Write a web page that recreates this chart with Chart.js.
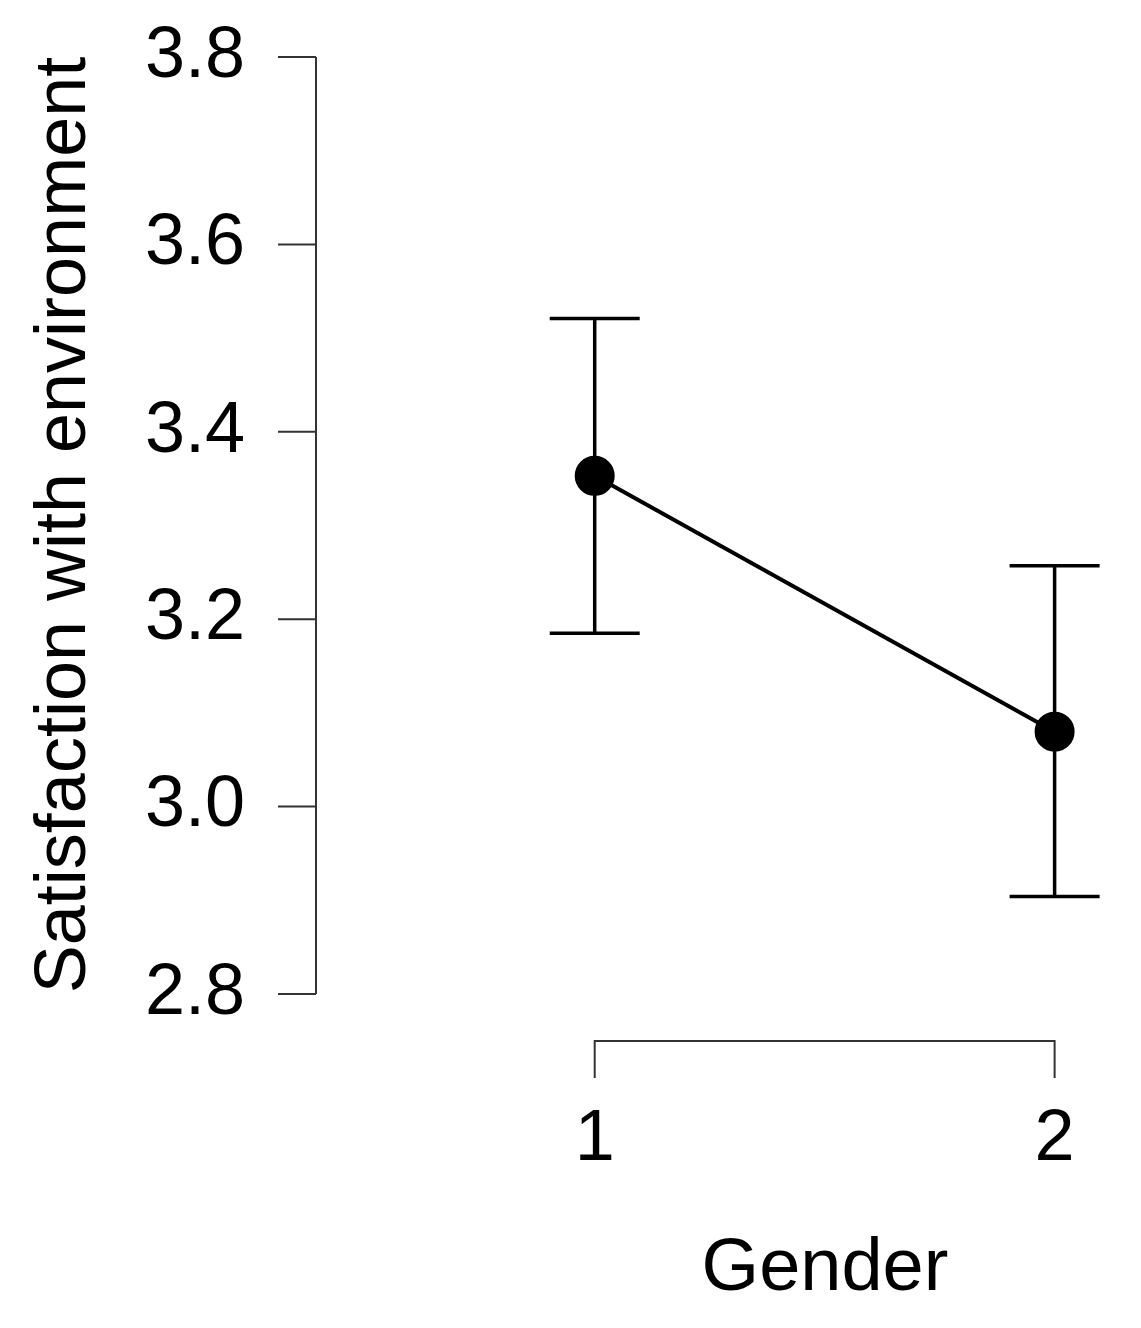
<!DOCTYPE html>
<html>
<head>
<meta charset="utf-8">
<script src="https://cdn.jsdelivr.net/npm/chart.js@4"></script>
<style>
  html, body { margin: 0; padding: 0; background: #fff; }
  #wrap { width: 1141px; height: 1328px; position: relative; }
</style>
</head>
<body>
<div id="wrap"><canvas id="c"></canvas></div>
<script>
const categories = [1, 2];
const means = [3.353, 3.080];
const upper = [3.521, 3.257];
const lower = [3.185, 2.904];
const yTicks = [2.8, 3.0, 3.2, 3.4, 3.6, 3.8];
const yTitle = 'Satisfaction with environment';
const xTitle = 'Gender';

const FONT = '"Liberation Sans", Arial, sans-serif';

// R-style axes, error bars and labels drawn on the library's scales
const rAxes = {
    id: 'rAxes',
    beforeDatasetsDraw(chart) {
        const { ctx, scales: { x, y } } = chart;
        ctx.save();
        ctx.strokeStyle = '#000';
        ctx.lineWidth = 3.5;
        ctx.lineCap = 'butt';
        categories.forEach((c, i) => {
            const px = x.getPixelForValue(c);
            const top = y.getPixelForValue(upper[i]);
            const bot = y.getPixelForValue(lower[i]);
            ctx.beginPath();
            ctx.moveTo(px, top); ctx.lineTo(px, bot);
            ctx.moveTo(px - 45, top); ctx.lineTo(px + 45, top);
            ctx.moveTo(px - 45, bot); ctx.lineTo(px + 45, bot);
            ctx.stroke();
        });
        ctx.restore();
    },
    afterDraw(chart) {
        const { ctx, scales: { x, y } } = chart;
        ctx.save();
        ctx.strokeStyle = '#333';
        ctx.lineWidth = 2;
        ctx.fillStyle = '#000';
        // y axis
        const ax = 316;
        const yTop = y.getPixelForValue(yTicks[yTicks.length - 1]);
        const yBot = y.getPixelForValue(yTicks[0]);
        ctx.beginPath();
        ctx.moveTo(ax, yTop); ctx.lineTo(ax, yBot);
        yTicks.forEach(t => {
            const py = y.getPixelForValue(t);
            ctx.moveTo(ax, py); ctx.lineTo(ax - 38, py);
        });
        ctx.stroke();
        ctx.font = '72px ' + FONT;
        ctx.textAlign = 'right';
        ctx.textBaseline = 'middle';
        yTicks.forEach(t => ctx.fillText(t.toFixed(1), 245, y.getPixelForValue(t)));
        // x axis bracket
        const bx0 = x.getPixelForValue(categories[0]);
        const bx1 = x.getPixelForValue(categories[categories.length - 1]);
        ctx.beginPath();
        ctx.moveTo(bx0, 1078); ctx.lineTo(bx0, 1041);
        ctx.lineTo(bx1, 1041); ctx.lineTo(bx1, 1078);
        ctx.stroke();
        ctx.textAlign = 'center';
        categories.forEach(c => ctx.fillText(String(c), x.getPixelForValue(c), 1140));
        // titles
        ctx.font = '74px ' + FONT;
        ctx.fillText(xTitle, 825, 1270);
        ctx.font = '72px ' + FONT;
        ctx.translate(65, 525);
        ctx.rotate(-Math.PI / 2);
        ctx.fillText(yTitle, 0, 0);
        ctx.restore();
    }
};

new Chart(document.getElementById('c'), {
    type: 'line',
    data: {
        datasets: [{
            data: categories.map((c, i) => ({ x: c, y: means[i] })),
            borderColor: '#000',
            backgroundColor: '#000',
            borderWidth: 4,
            pointRadius: 18,
            pointBackgroundColor: '#000',
            tension: 0
        }]
    },
    options: {
        responsive: true,
        maintainAspectRatio: false,
        devicePixelRatio: 1,
        animation: false,
        layout: { padding: { top: 57, bottom: 334, left: 316, right: 0 } },
        scales: {
            x: { type: 'linear', min: 0.394, max: 2.140, display: false },
            y: { min: 2.8, max: 3.8, display: false }
        },
        plugins: { legend: { display: false }, tooltip: { enabled: false } }
    },
    plugins: [rAxes]
});
</script>
</body>
</html>
